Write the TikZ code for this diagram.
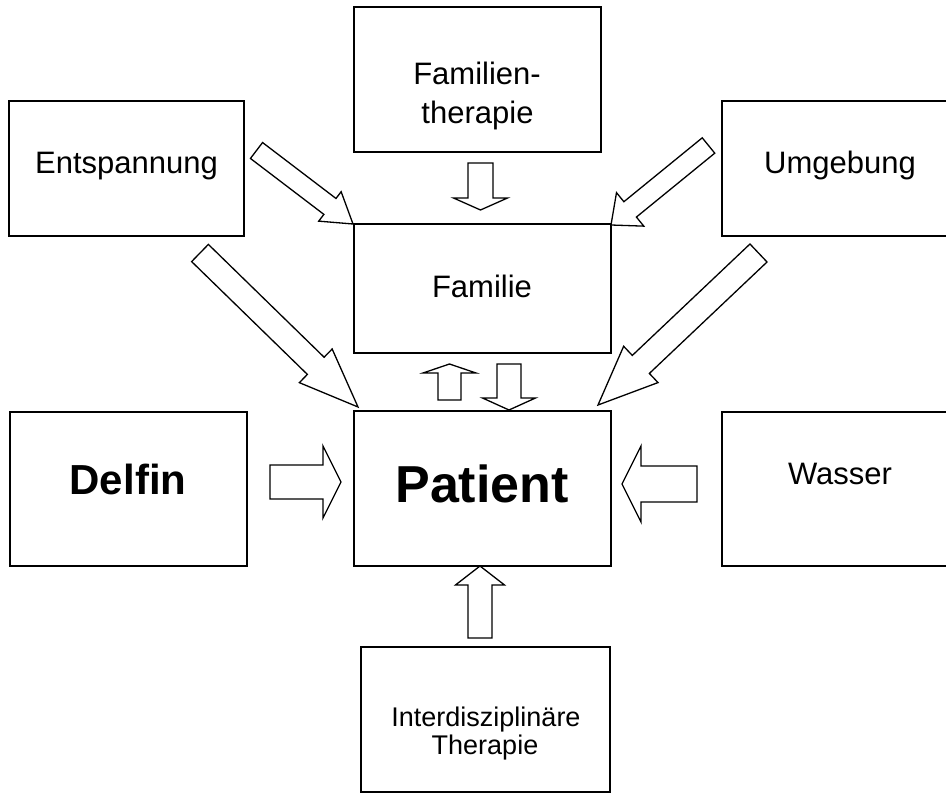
\documentclass[tikz,border=0pt]{standalone}
\usepackage{fontspec}
\setmainfont{Liberation Sans}
\usetikzlibrary{calc}
\tikzset{
  box/.style={draw, line width=1.6pt, inner sep=0pt},
  txt/.style={anchor=base, inner sep=0pt, font=\fontsize{31}{36}\selectfont},
  bigtxt/.style={anchor=base, inner sep=0pt, font=\fontsize{52}{60}\selectfont\bfseries},
  midtxt/.style={anchor=base, inner sep=0pt, font=\fontsize{42}{50}\selectfont\bfseries},
  smalltxt/.style={anchor=base, inner sep=0pt, font=\fontsize{27}{31}\selectfont},
  blockarr/.style={draw, line width=1.3pt, fill=white, line join=miter},
}
% tail, tip, half shaft width, half head width, head length
\newcommand\barrow[5]{%
  \coordinate (hbase) at ($(#2)!#5pt!(#1)$);
  \draw[blockarr] ($(#1)!#3pt!90:(#2)$) -- ($(hbase)!#3pt!90:(#2)$) -- ($(hbase)!#4pt!90:(#2)$)
    -- (#2) -- ($(hbase)!#4pt!-90:(#2)$) -- ($(hbase)!#3pt!-90:(#2)$) -- ($(#1)!#3pt!-90:(#2)$) -- cycle;}
\begin{document}
\begin{tikzpicture}[x=1pt,y=-1pt]
\clip (0,0) rectangle (946,794);
\fill[white] (0,0) rectangle (946,794);
% boxes
\node[box, minimum width=247pt, minimum height=145pt] (famth) at (477.5,79.5) {};
\node[box, minimum width=235pt, minimum height=135pt] (entsp) at (126.5,168.5) {};
\node[box, minimum width=236pt, minimum height=135pt] (umgeb) at (840,168.5) {};
\node[box, minimum width=257pt, minimum height=129pt] (famil) at (482.5,288.5) {};
\node[box, minimum width=237pt, minimum height=154pt] (delfin) at (128.5,489) {};
\node[box, minimum width=257pt, minimum height=155pt] (patient) at (482.5,488.5) {};
\node[box, minimum width=236pt, minimum height=154pt] (wasser) at (840,489) {};
\node[box, minimum width=249pt, minimum height=145pt] (interd) at (485.5,719.5) {};
% texts
\node[txt] (famthA) at (477,85) {Familien-};
\node[txt] (famthB) at (477.5,124) {therapie};
\node[txt] (entspT) at (126.5,174) {Entspannung};
\node[txt] (umgebT) at (840,174) {Umgebung};
\node[txt] (familT) at (482,298) {Familie};
\node[midtxt] (delfinT) at (128,494) {Delfin};
\node[bigtxt] (patientT) at (482,503) {Patient};
\node[txt] (wasserT) at (840,484) {Wasser};
\node[smalltxt] (interdA) at (486,726) {Interdisziplinäre};
\node[smalltxt] (interdB) at (485,754) {Therapie};
% arrow end points
\coordinate (a1s) at (480.5,163); \coordinate (a1e) at (480.5,210);
\coordinate (a2s) at (449.5,400); \coordinate (a2e) at (449.5,364);
\coordinate (a3s) at (509,364);   \coordinate (a3e) at (509,410);
\coordinate (a4s) at (270,482);   \coordinate (a4e) at (341,482);
\coordinate (a5s) at (697,484);   \coordinate (a5e) at (622,484);
\coordinate (a6s) at (480,638);   \coordinate (a6e) at (480,566);
\coordinate (a7s) at (256.5,150.5); \coordinate (a7e) at (353,224);
\coordinate (a8s) at (200,253);   \coordinate (a8e) at (358,407);
\coordinate (a9s) at (708.5,145.5); \coordinate (a9e) at (611,225);
\coordinate (a10s) at (758.5,253); \coordinate (a10e) at (598,405);
% block arrows
\barrow{a1s}{a1e}{12.5}{27}{12}
\barrow{a2s}{a2e}{11.5}{26.5}{9}
\barrow{a3s}{a3e}{12}{26.5}{12}
\barrow{a4s}{a4e}{17}{36}{18}
\barrow{a5s}{a5e}{18}{38}{19}
\barrow{a6s}{a6e}{12}{24.5}{19}
\barrow{a7s}{a7e}{10}{18.5}{29}
\barrow{a8s}{a8e}{12}{23.5}{59}
\barrow{a9s}{a9e}{9.9}{21.6}{24.7}
\barrow{a10s}{a10e}{12.4}{25}{59}
\end{tikzpicture}
\end{document}
